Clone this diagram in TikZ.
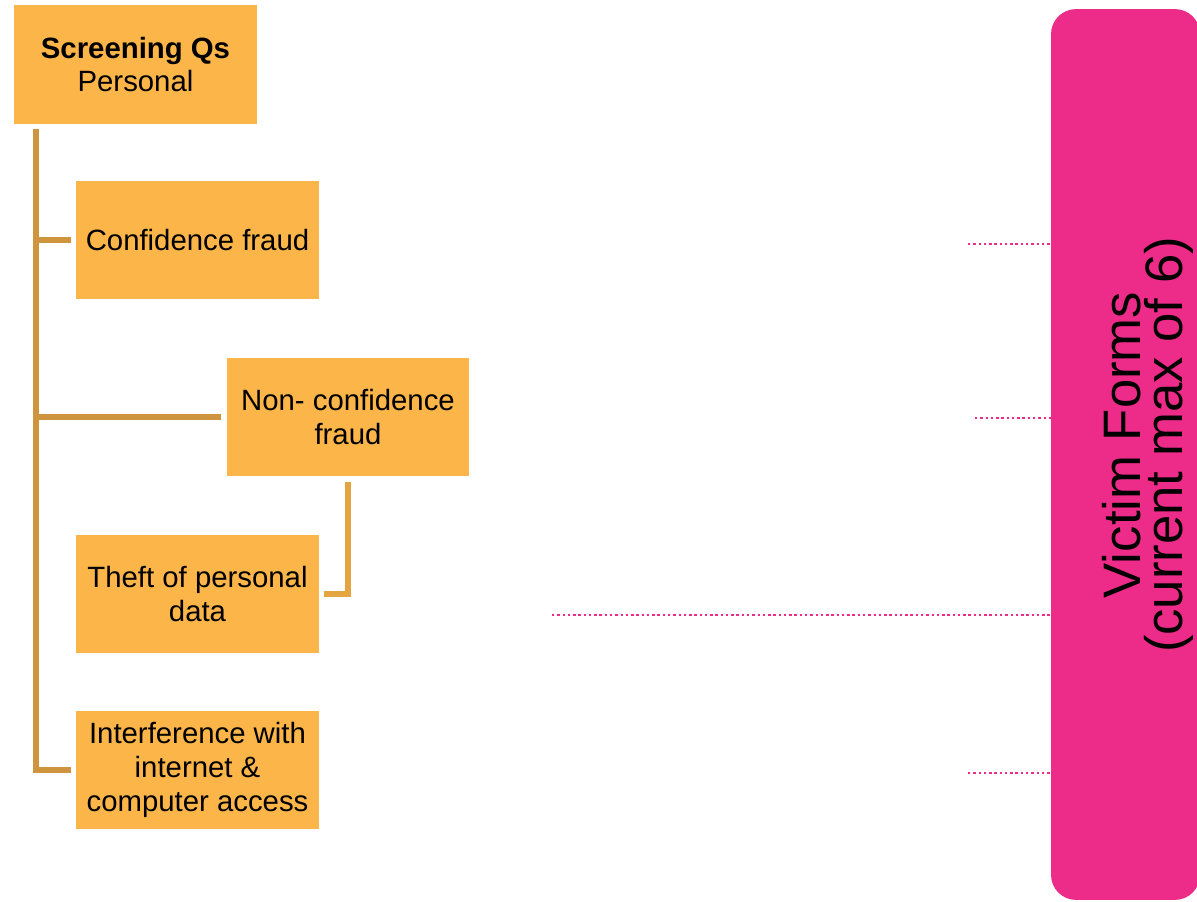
\documentclass[tikz,border=0pt]{standalone}
\usepackage{fontspec}
\setmainfont{Liberation Sans}
\usepackage{xcolor}
\usepackage{tikz}

\definecolor{boxfill}{RGB}{251,181,73}
\definecolor{trunkcol}{RGB}{206,149,62}
\definecolor{branchcol}{RGB}{228,164,64}
\definecolor{victimpink}{RGB}{237,43,137}

\tikzset{
  qbox/.style={fill=boxfill, minimum width=4.86cm, minimum height=2.38cm,
    inner sep=0pt, outer sep=0.11cm, align=center,
    font=\fontsize{16.7}{19.2}\selectfont},
  trunk/.style={draw=trunkcol, line width=3pt},
  branch/.style={draw=branchcol, line width=3pt},
  dotline/.style={draw=victimpink, line width=1.4pt, dash pattern=on 1.4pt off 1.6pt}
}

\begin{document}
\begin{tikzpicture}[x=0.02cm, y=-0.02cm]
  \useasboundingbox (0,0) rectangle (1197,902);
  % question boxes
  \node[qbox] (screen) at (135.5,64.5) {\textbf{Screening Qs}\\Personal};
  \node[qbox] (conf) at (197.5,240) {Confidence fraud};
  \node[qbox] (nonconf) at (348,417) {Non- confidence\\fraud};
  \node[qbox] (theft) at (197.5,594) {Theft of personal\\data};
  \node[qbox] (interf) at (197.5,770) {Interference with\\internet \&\\computer access};
  % victim forms
  \node[fill=victimpink, rounded corners=0.5cm, minimum width=2.98cm,
    minimum height=17.82cm, inner sep=0pt] (victim) at (1125.5,454.5) {};
  \node[rotate=90, align=center, font=\fontsize{30}{24}\selectfont]
    (victimtxt) at (1148,445) {Victim Forms\\(current max of 6)};
  % tree lines
  \coordinate (trunktop) at (36,129);
  \draw[trunk] (trunktop) |- (interf.west);
  \draw[trunk] (conf.west) -- (conf.west -| trunktop);
  \draw[trunk] (nonconf.west) -- (nonconf.west -| trunktop);
  \draw[branch] (nonconf.south) |- (theft.east);
  % dotted links
  \coordinate (d1) at (968,244);
  \coordinate (d2) at (975,418);
  \coordinate (d3) at (552,615);
  \coordinate (d4) at (968,773);
  \foreach \d in {d1,d2,d3,d4}
    \draw[dotline] (\d) -- (\d -| victim.west);
\end{tikzpicture}
\end{document}
